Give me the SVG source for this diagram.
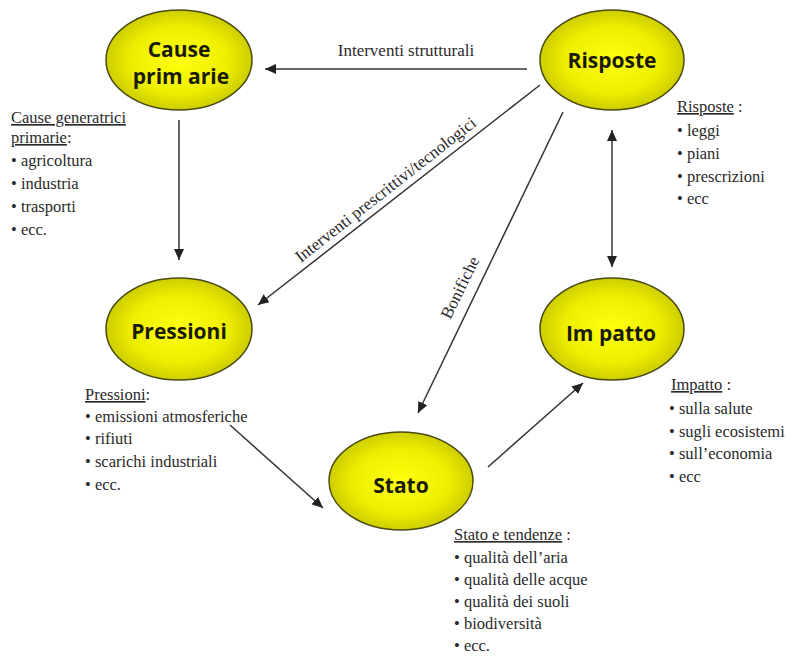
<svg xmlns="http://www.w3.org/2000/svg" width="791" height="661" viewBox="0 0 791 661">
<style>
.node{stroke:#4a4a10;stroke-width:1.5}
.nl{font-family:"Open Sans","DejaVu Sans",sans-serif;font-weight:bold;font-size:21px;fill:#1a1a08;text-anchor:middle}
.ann{font-family:"Liberation Serif","Times New Roman",serif;font-size:16.5px;fill:#2a2a2a}
.cl{font-family:"Liberation Serif","Times New Roman",serif;font-size:17px;fill:#2a2a2a}
.con line{stroke:#333;stroke-width:1.5;fill:none}
</style>
<defs>
<radialGradient id="yg" cx="50%" cy="50%" r="55%">
<stop offset="0" stop-color="#ffff10"/>
<stop offset="0.6" stop-color="#eeee00"/>
<stop offset="1" stop-color="#c4c400"/>
</radialGradient>
<marker id="ah" markerUnits="userSpaceOnUse" markerWidth="12" markerHeight="10" refX="11" refY="5" orient="auto-start-reverse">
<path d="M0,0 L11,5 L0,10 Z" fill="#222"/>
</marker>
</defs>
<rect width="791" height="661" fill="#fff"/>

<g id="connectors" class="con">
<line x1="527" y1="69" x2="265" y2="69" marker-end="url(#ah)"/>
<line x1="179" y1="120" x2="179" y2="260" marker-end="url(#ah)"/>
<line x1="540" y1="85" x2="258" y2="305" marker-end="url(#ah)"/>
<line x1="563" y1="112" x2="418" y2="413" marker-end="url(#ah)"/>
<line x1="612" y1="130" x2="612" y2="267" marker-start="url(#ah)" marker-end="url(#ah)"/>
<line x1="230" y1="425" x2="323" y2="508" marker-end="url(#ah)"/>
<line x1="488" y1="467" x2="583" y2="383" marker-end="url(#ah)"/>
<text class="cl" x="406" y="56" text-anchor="middle">Interventi strutturali</text>
<text class="cl" text-anchor="middle" transform="translate(389,194) rotate(-38)">Interventi prescrittivi/tecnologici</text>
<text class="cl" text-anchor="middle" transform="translate(465,290) rotate(-64)">Bonifiche</text>
</g>

<g id="cause">
<ellipse class="node" fill="url(#yg)" cx="179" cy="60" rx="73" ry="50"/>
<text class="nl" x="179" y="57">Cause</text>
<text class="nl" x="181" y="84">prim arie</text>
<text class="ann" x="11"><tspan x="11" y="123" text-decoration="underline">Cause generatrici</tspan><tspan x="11" y="143"><tspan text-decoration="underline">primarie</tspan>:</tspan><tspan x="11" y="166">• agricoltura</tspan><tspan x="11" y="189">• industria</tspan><tspan x="11" y="212">• trasporti</tspan><tspan x="11" y="235">• ecc.</tspan></text>
</g>

<g id="risposte">
<ellipse class="node" fill="url(#yg)" cx="612" cy="60" rx="72" ry="50"/>
<text class="nl" x="612" y="68">Risposte</text>
<text class="ann" x="677"><tspan x="677" y="112"><tspan text-decoration="underline">Risposte</tspan> :</tspan><tspan x="677" y="136">• leggi</tspan><tspan x="677" y="159">• piani</tspan><tspan x="677" y="182">• prescrizioni</tspan><tspan x="677" y="204">• ecc</tspan></text>
</g>

<g id="pressioni">
<ellipse class="node" fill="url(#yg)" cx="179" cy="329" rx="73" ry="51"/>
<text class="nl" x="179" y="339">Pressioni</text>
<text class="ann"><tspan x="85" y="400"><tspan text-decoration="underline">Pressioni</tspan>:</tspan><tspan x="85" y="422">• emissioni atmosferiche</tspan><tspan x="85" y="444">• rifiuti</tspan><tspan x="85" y="467">• scarichi industriali</tspan><tspan x="85" y="490">• ecc.</tspan></text>
</g>

<g id="impatto">
<ellipse class="node" fill="url(#yg)" cx="612" cy="329" rx="72" ry="51"/>
<text class="nl" x="611" y="341">Im patto</text>
<text class="ann"><tspan x="671" y="390"><tspan text-decoration="underline">Impatto</tspan> :</tspan><tspan x="669" y="414">• sulla salute</tspan><tspan x="669" y="437">• sugli ecosistemi</tspan><tspan x="669" y="459">• sull’economia</tspan><tspan x="669" y="482">• ecc</tspan></text>
</g>

<g id="stato">
<ellipse class="node" fill="url(#yg)" cx="401" cy="481" rx="72" ry="49"/>
<text class="nl" x="401" y="493">Stato</text>
<text class="ann"><tspan x="454" y="540"><tspan text-decoration="underline">Stato e tendenze</tspan> :</tspan><tspan x="454" y="563">• qualità dell’aria</tspan><tspan x="454" y="585">• qualità delle acque</tspan><tspan x="454" y="607">• qualità dei suoli</tspan><tspan x="454" y="629">• biodiversità</tspan><tspan x="454" y="651">• ecc.</tspan></text>
</g>
</svg>
